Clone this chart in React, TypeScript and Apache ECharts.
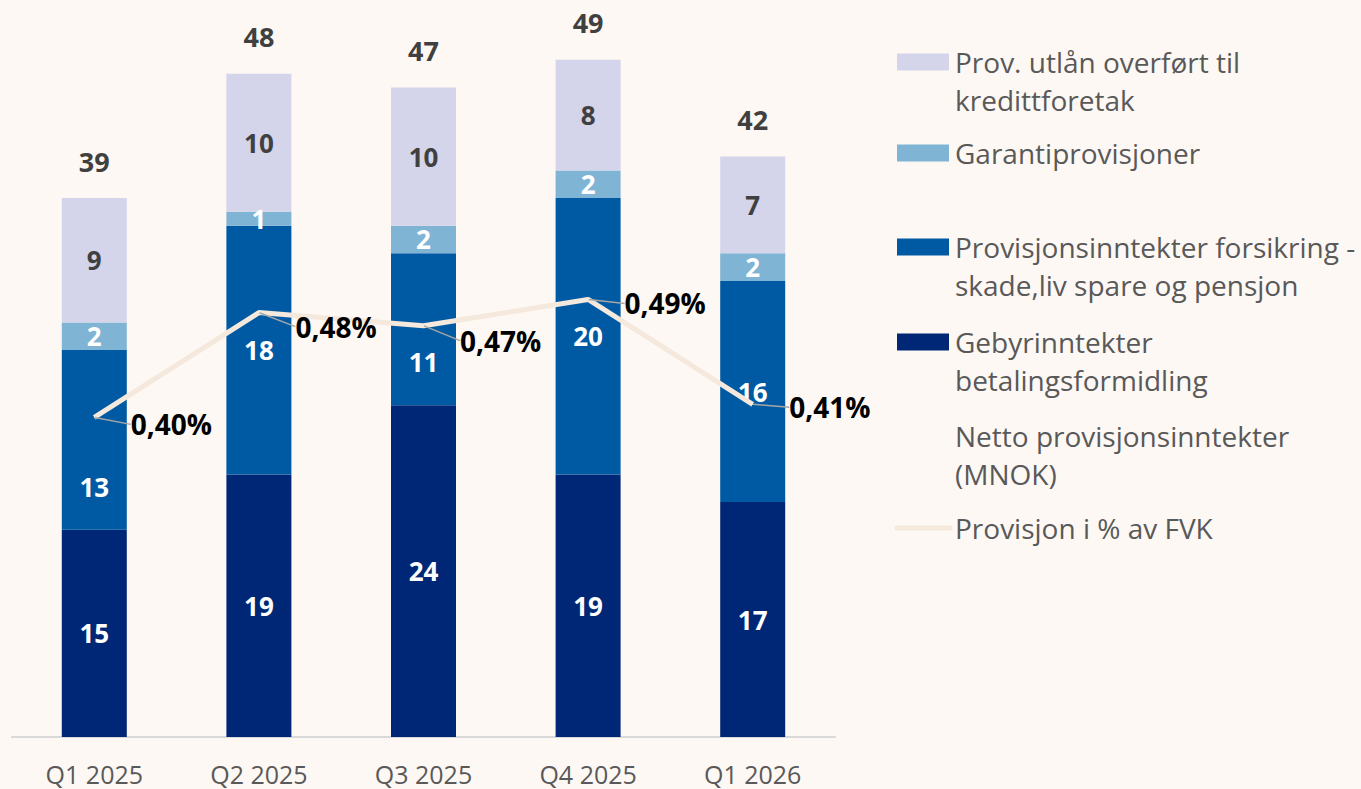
import React, { useEffect, useRef } from "react";
import * as echarts from "echarts";

const categories = ["Q1 2025", "Q2 2025", "Q3 2025", "Q4 2025", "Q1 2026"];
const gebyr = [15, 19, 24, 19, 17];
const forsikring = [13, 18, 11, 20, 16];
const garanti = [2, 1, 2, 2, 2];
const kreditt = [9, 10, 10, 8, 7];
const totals = [39, 48, 47, 49, 42];
const provisjonPct = [0.4, 0.48, 0.47, 0.49, 0.41];

const seriesNames = [
  "Prov. utlån overført til\nkredittforetak",
  "Garantiprovisjoner",
  "Provisjonsinntekter forsikring -\nskade,liv spare og pensjon",
  "Gebyrinntekter\nbetalingsformidling",
  "Netto provisjonsinntekter\n(MNOK)",
  "Provisjon i % av FVK",
];

const C_KREDITT = "#d4d4ea";
const C_GARANTI = "#7fb4d4";
const C_FORS = "#005aa3";
const C_GEBYR = "#002776";
const C_LINE = "#f5e8dc";
const FONT = "'Open Sans', Lato, sans-serif";

// layout only
const pctDy = [7, 14, 15, 4, 3];
const forsLabelDy = [47, 0, 33, 0, 0];
const legendCenters = [62, 153, 247, 342, 436, 528];

export default function App() {
  const ref = useRef<HTMLDivElement>(null);
  useEffect(() => {
    document.body.style.margin = "0";
    const chart = echarts.init(ref.current!, null, { renderer: "svg" });
    const inLabel = (color: string) => ({
      show: true,
      position: "inside" as const,
      color,
      fontFamily: FONT,
      fontWeight: "bold" as const,
      fontSize: 26,
    });
    const legendColors = [C_KREDITT, C_GARANTI, C_FORS, C_GEBYR, null, null];
    const graphics: any[] = [];
    seriesNames.forEach((name, i) => {
      const c = legendCenters[i];
      graphics.push({
        type: "text",
        left: 955,
        top: c - 19,
        style: {
          text: name,
          fontFamily: FONT,
          fontSize: 28,
          lineHeight: 38,
          fill: "#595959",
        },
      });
      if (legendColors[i]) {
        graphics.push({
          type: "rect",
          shape: { x: 897, y: c - 8.5, width: 52, height: 17 },
          style: { fill: legendColors[i] as string },
        });
      }
    });
    graphics.push({
      type: "line",
      shape: { x1: 897, y1: legendCenters[5], x2: 950, y2: legendCenters[5] },
      style: { stroke: C_LINE, lineWidth: 5, lineCap: "round" },
    });

    chart.setOption({
      animation: false,
      backgroundColor: "#fdf8f4",
      textStyle: { fontFamily: FONT },
      grid: { left: 12, right: 526, top: 46, bottom: 52 },
      xAxis: {
        type: "category",
        data: categories,
        axisTick: { show: false },
        axisLine: { lineStyle: { color: "#d9d9d9", width: 2 } },
        axisLabel: { color: "#595959", fontSize: 25, margin: 24, fontFamily: FONT },
      },
      yAxis: [
        { type: "value", min: 0, max: 50, show: false },
        { type: "value", min: 0.156, max: 0.6835, show: false },
      ],
      graphic: graphics,
      series: [
        {
          name: "gebyr",
          type: "bar",
          stack: "a",
          barWidth: 65,
          data: gebyr,
          itemStyle: { color: C_GEBYR },
          label: inLabel("#ffffff"),
        },
        {
          name: "fors",
          type: "bar",
          stack: "a",
          data: forsikring.map((v, i) => ({
            value: v,
            label: { offset: [0, forsLabelDy[i]] },
          })),
          itemStyle: { color: C_FORS },
          label: inLabel("#ffffff"),
        },
        {
          name: "garanti",
          type: "bar",
          stack: "a",
          data: garanti,
          itemStyle: { color: C_GARANTI },
          label: inLabel("#ffffff"),
        },
        {
          name: "kreditt",
          type: "bar",
          stack: "a",
          data: kreditt,
          itemStyle: { color: C_KREDITT },
          label: inLabel("#404040"),
        },
        {
          name: "total",
          type: "line",
          data: totals,
          symbol: "circle",
          symbolSize: 1,
          showSymbol: true,
          itemStyle: { color: "rgba(0,0,0,0)" },
          lineStyle: { opacity: 0 },
          label: {
            show: true,
            position: "top",
            distance: 23,
            color: "#404040",
            fontFamily: FONT,
            fontWeight: "bold",
            fontSize: 27,
          },
          z: 5,
        },
        {
          name: "pct",
          type: "line",
          yAxisIndex: 1,
          data: provisjonPct,
          symbol: "circle",
          symbolSize: 1,
          showSymbol: true,
          itemStyle: { color: C_LINE },
          lineStyle: { color: C_LINE, width: 5 },
          label: {
            show: true,
            position: "right",
            distance: 36,
            color: "#000000",
            fontFamily: FONT,
            fontWeight: "bold",
            fontSize: 28,
            formatter: (p: any) => p.value.toFixed(2).replace(".", ",") + "%",
          },
          labelLayout: (p: any) => ({ dy: pctDy[p.dataIndex] }),
          labelLine: { show: true, lineStyle: { color: "#a6a6a6", width: 1.5 } },
          z: 6,
        },
      ],
    });
    return () => chart.dispose();
  }, []);
  return <div ref={ref} style={{ width: 1361, height: 789 }} />;
}
